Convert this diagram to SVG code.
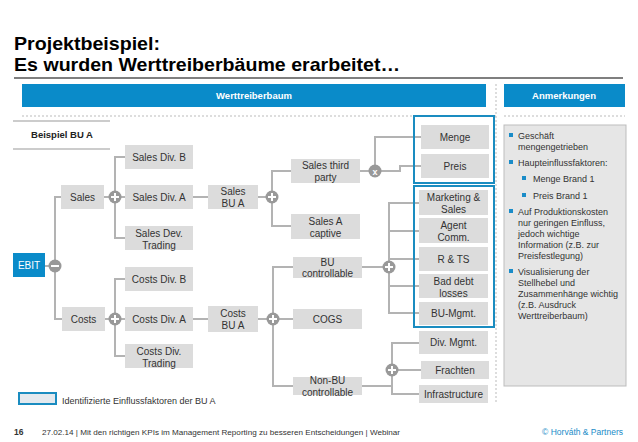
<svg xmlns="http://www.w3.org/2000/svg" width="638" height="442" viewBox="0 0 638 442">
<style>
text{font-family:"Liberation Sans",Arial,sans-serif;fill:#333}
.n{fill:#dcdcdc}
.t{font-size:10px;text-anchor:middle}
.c line,.c polyline{stroke:#b3b3b3;stroke-width:2;fill:none}
.op{fill:#999}
.sym{stroke:#fff;stroke-width:2}
.hl{fill:none;stroke:#1a8cc0;stroke-width:2}
.r{font-size:9px}
.b{fill:#1a8cc8}
</style>
<rect width="638" height="442" fill="#fff"/>
<g id="title">
<text x="14" y="50" textLength="146" lengthAdjust="spacingAndGlyphs" style="font-size:19px;font-weight:bold;fill:#000">Projektbeispiel:</text>
<text x="14" y="71" textLength="386" lengthAdjust="spacingAndGlyphs" style="font-size:19px;font-weight:bold;fill:#000">Es wurden Werttreiberbäume erarbeitet…</text>
<line x1="14" y1="78" x2="623" y2="78" stroke="#000" stroke-width="1.2"/>
</g>
<g id="headers">
<rect x="22" y="84" width="464" height="23" fill="#0a8bc9"/>
<text x="254" y="99" style="font-size:9.5px;font-weight:bold;fill:#fff;text-anchor:middle">Werttreiberbaum</text>
<rect x="504" y="84" width="121" height="23" fill="#0a8bc9"/>
<text x="564" y="99" style="font-size:9.5px;font-weight:bold;fill:#fff;text-anchor:middle">Anmerkungen</text>
<line x1="22" y1="116" x2="496" y2="116" stroke="#bbb" stroke-dasharray="2,2"/>
<line x1="504" y1="116" x2="625" y2="116" stroke="#bbb" stroke-dasharray="2,2"/>
<line x1="496" y1="84" x2="496" y2="403" stroke="#bbb" stroke-dasharray="2,2"/>
</g>
<g id="beispiel">
<line x1="13" y1="121" x2="110" y2="121" stroke="#999"/>
<text x="62" y="138" style="font-size:9.5px;font-weight:bold;fill:#222;text-anchor:middle">Beispiel BU A</text>
<line x1="13" y1="149" x2="110" y2="149" stroke="#999"/>
</g>
<g id="connectors" class="c">
<line x1="45" y1="266" x2="55" y2="266"/>
<polyline points="61,197 55,197 55,319 62,319"/>
<line x1="104" y1="197" x2="115" y2="197"/>
<polyline points="125,157 115,157 115,238 125,238"/>
<line x1="115" y1="197" x2="125" y2="197"/>
<line x1="105" y1="319" x2="115" y2="319"/>
<polyline points="125,279 115,279 115,356 125,356"/>
<line x1="115" y1="319" x2="125" y2="319"/>
<line x1="193" y1="197" x2="208" y2="197"/>
<line x1="193" y1="319" x2="208" y2="319"/>
<line x1="258" y1="197" x2="272" y2="197"/>
<polyline points="291,171 272,171 272,226 291,226"/>
<line x1="360" y1="171" x2="374" y2="171"/>
<polyline points="375,171 375,137 421,137"/>
<polyline points="374,171 400,171 400,166 421,166"/>
<line x1="258" y1="319" x2="273" y2="319"/>
<polyline points="293,267 273,267 273,386 293,386"/>
<line x1="273" y1="319" x2="293" y2="319"/>
<line x1="362" y1="267" x2="389" y2="267"/>
<polyline points="419,203 389,203 389,313 419,313"/>
<line x1="389" y1="231" x2="419" y2="231"/>
<line x1="389" y1="259" x2="419" y2="259"/>
<line x1="389" y1="286" x2="419" y2="286"/>
<line x1="362" y1="386" x2="392" y2="386"/>
<polyline points="419,343 392,343 392,394 419,394"/>
<line x1="392" y1="370" x2="421" y2="370"/>
</g>
<g id="ops">
<circle class="op" cx="55" cy="266" r="6.5"/><line class="sym" x1="51" y1="266" x2="59" y2="266"/>
<circle class="op" cx="115" cy="197" r="6.5"/><path class="sym" d="M111 197H119M115 193V201"/>
<circle class="op" cx="115" cy="319" r="6.5"/><path class="sym" d="M111 319H119M115 315V323"/>
<circle class="op" cx="272" cy="197" r="6.5"/><path class="sym" d="M268 197H276M272 193V201"/>
<circle class="op" cx="273" cy="319" r="6.5"/><path class="sym" d="M269 319H277M273 315V323"/>
<circle class="op" cx="375" cy="171" r="6.5"/><text x="375" y="174.5" style="font-size:9px;font-weight:bold;fill:#fff;text-anchor:middle">x</text>
<circle class="op" cx="389" cy="267" r="6.5"/><path class="sym" d="M385 267H393M389 263V271"/>
<circle class="op" cx="392" cy="370" r="6.5"/><path class="sym" d="M388 370H396M392 366V374"/>
</g>
<g id="ebit"><rect x="13" y="253" width="32" height="24" fill="#0a8bc9"/><text class="t" x="29" y="268.5" style="fill:#fff">EBIT</text></g>
<g id="sales"><rect class="n" x="61" y="185" width="43" height="24"/><text class="t" x="82.5" y="200.5">Sales</text></g>
<g id="costs"><rect class="n" x="62" y="307" width="43" height="24"/><text class="t" x="83.5" y="322.5">Costs</text></g>
<g id="salesDivB"><rect class="n" x="125" y="145" width="68" height="24"/><text class="t" x="159" y="160.5">Sales Div. B</text></g>
<g id="salesDivA"><rect class="n" x="125" y="185" width="68" height="24"/><text class="t" x="159" y="200.5">Sales Div. A</text></g>
<g id="salesDevTrading"><rect class="n" x="125" y="226" width="68" height="24"/><text class="t" x="159" y="236.5">Sales Dev.</text><text class="t" x="159" y="248.5">Trading</text></g>
<g id="costsDivB"><rect class="n" x="125" y="267" width="68" height="24"/><text class="t" x="159" y="282.5">Costs Div. B</text></g>
<g id="costsDivA"><rect class="n" x="125" y="307" width="68" height="24"/><text class="t" x="159" y="322.5">Costs Div. A</text></g>
<g id="costsDivTrading"><rect class="n" x="125" y="344" width="68" height="24"/><text class="t" x="159" y="354.5">Costs Div.</text><text class="t" x="159" y="366.5">Trading</text></g>
<g id="salesBUA"><rect class="n" x="208" y="185" width="50" height="24"/><text class="t" x="233" y="195">Sales</text><text class="t" x="233" y="207">BU A</text></g>
<g id="costsBUA"><rect class="n" x="208" y="306" width="50" height="26"/><text class="t" x="233" y="316.5">Costs</text><text class="t" x="233" y="328.5">BU A</text></g>
<g id="salesThirdParty"><rect class="n" x="291" y="159" width="69" height="24"/><text class="t" x="325.5" y="169">Sales third</text><text class="t" x="325.5" y="181">party</text></g>
<g id="salesACaptive"><rect class="n" x="291" y="214" width="69" height="25"/><text class="t" x="325.5" y="224.5">Sales A</text><text class="t" x="325.5" y="236.5">captive</text></g>
<g id="buControllable"><rect class="n" x="293" y="257" width="69" height="21"/><text class="t" x="327.5" y="265.5">BU</text><text class="t" x="327.5" y="277">controllable</text></g>
<g id="cogs"><rect class="n" x="293" y="309" width="69" height="20"/><text class="t" x="327.5" y="322.5">COGS</text></g>
<g id="nonBUControllable"><rect class="n" x="293" y="377" width="69" height="18"/><text class="t" x="327.5" y="383.5">Non-BU</text><text class="t" x="327.5" y="395.5">controllable</text></g>
<g id="menge"><rect class="n" x="421" y="125" width="68" height="24"/><text class="t" x="455" y="140.5">Menge</text></g>
<g id="preis"><rect class="n" x="421" y="154" width="68" height="24"/><text class="t" x="455" y="169.5">Preis</text></g>
<g id="marketingSales"><rect class="n" x="419" y="190" width="69" height="25"/><text class="t" x="453.5" y="201">Marketing &amp;</text><text class="t" x="453.5" y="213">Sales</text></g>
<g id="agentComm"><rect class="n" x="419" y="218" width="69" height="25"/><text class="t" x="453.5" y="229">Agent</text><text class="t" x="453.5" y="241">Comm.</text></g>
<g id="rts"><rect class="n" x="419" y="247" width="69" height="24"/><text class="t" x="453.5" y="262.5">R &amp; TS</text></g>
<g id="badDebt"><rect class="n" x="419" y="274" width="69" height="24"/><text class="t" x="453.5" y="284.5">Bad debt</text><text class="t" x="453.5" y="296.5">losses</text></g>
<g id="buMgmt"><rect class="n" x="419" y="302" width="69" height="23"/><text class="t" x="453.5" y="317">BU-Mgmt.</text></g>
<g id="divMgmt"><rect class="n" x="419" y="331" width="69" height="23"/><text class="t" x="453.5" y="346">Div. Mgmt.</text></g>
<g id="frachten"><rect class="n" x="421" y="361" width="68" height="18"/><text class="t" x="455" y="373.5">Frachten</text></g>
<g id="infrastructure"><rect class="n" x="419" y="385" width="69" height="18"/><text class="t" x="453.5" y="397.5">Infrastructure</text></g>
<g id="highlights">
<rect class="hl" x="414" y="116" width="80" height="67"/>
<rect class="hl" x="414" y="186" width="80" height="141"/>
</g>
<g id="anmerkungen">
<rect x="504" y="125" width="122" height="261" fill="#e6e6e6" stroke="#bdbdbd"/>
<rect class="b" x="509" y="133" width="4" height="4"/>
<text class="r" x="518" y="139">Geschäft</text>
<text class="r" x="518" y="150">mengengetrieben</text>
<rect class="b" x="509" y="160" width="4" height="4"/>
<text class="r" x="518" y="166">Haupteinflussfaktoren:</text>
<rect class="b" x="522" y="176" width="4" height="4"/>
<text class="r" x="533" y="182">Menge Brand 1</text>
<rect class="b" x="522" y="193" width="4" height="4"/>
<text class="r" x="533" y="199">Preis Brand 1</text>
<rect class="b" x="509" y="209" width="4" height="4"/>
<text class="r" x="518" y="215">Auf Produktionskosten</text>
<text class="r" x="518" y="226">nur geringen Einfluss,</text>
<text class="r" x="518" y="237">jedoch wichtige</text>
<text class="r" x="518" y="248">Information (z.B. zur</text>
<text class="r" x="518" y="259">Preisfestlegung)</text>
<rect class="b" x="509" y="269" width="4" height="4"/>
<text class="r" x="518" y="275">Visualisierung der</text>
<text class="r" x="518" y="286">Stellhebel und</text>
<text class="r" x="518" y="297">Zusammenhänge wichtig</text>
<text class="r" x="518" y="308">(z.B. Ausdruck</text>
<text class="r" x="518" y="319">Werttreiberbaum)</text>
</g>
<g id="legend">
<rect x="19" y="393" width="37" height="11" fill="#e3e9ee" stroke="#1a8cc0" stroke-width="2"/>
<text x="62" y="404" style="font-size:9px">Identifizierte Einflussfaktoren der BU A</text>
</g>
<g id="footer">
<text x="14" y="435" style="font-size:8.5px;font-weight:bold">16</text>
<text x="42" y="435" textLength="358" lengthAdjust="spacingAndGlyphs" style="font-size:8px">27.02.14 | Mit den richtigen KPIs im Management Reporting zu besseren Entscheidungen | Webinar</text>
<text x="623" y="435" style="font-size:8.5px;fill:#1a8cc8;text-anchor:end">© Horváth &amp; Partners</text>
</g>
</svg>
